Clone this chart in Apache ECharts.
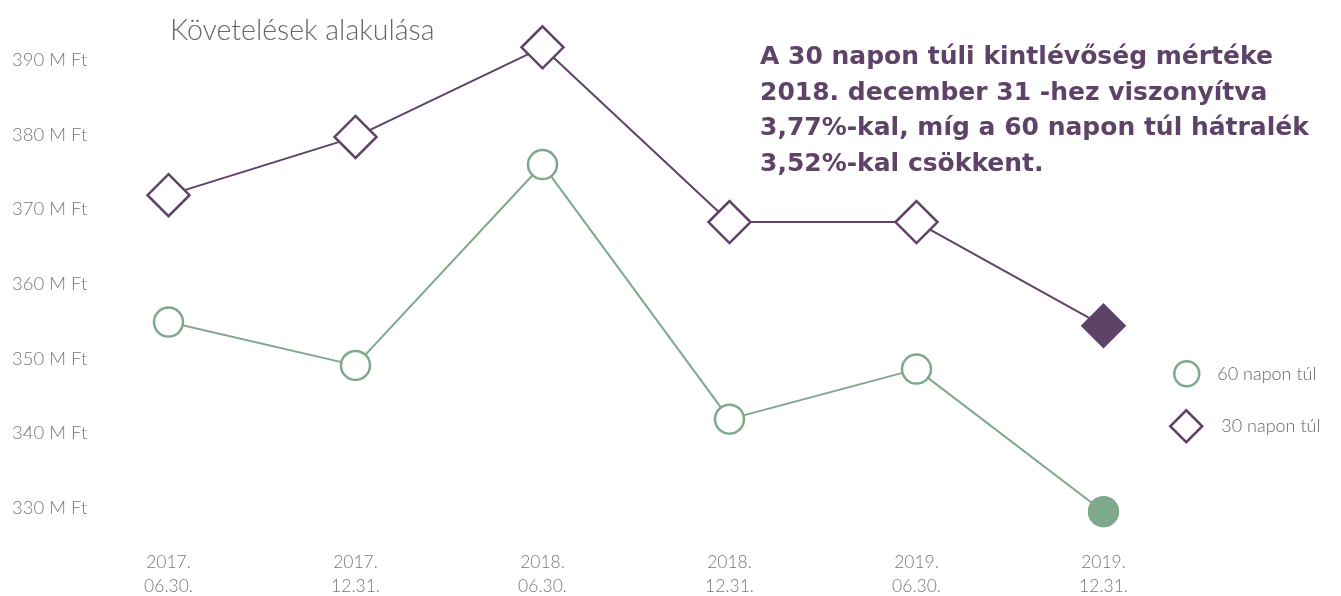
<!DOCTYPE html>
<html>
<head>
<meta charset="utf-8">
<script src="https://cdn.jsdelivr.net/npm/echarts@6/dist/echarts.min.js"></script>
<style>
html,body{margin:0;padding:0;background:#fff;overflow:hidden;}
#c{width:1341px;height:596px;}
</style>
</head>
<body>
<div id="c"></div>
<script>
const categories = ['2017.\n06.30.', '2017.\n12.31.', '2018.\n06.30.', '2018.\n12.31.', '2019.\n06.30.', '2019.\n12.31.'];
const days60 = [354.9, 349.1, 376.0, 341.9, 348.6, 329.5];
const days30 = [371.9, 379.7, 391.7, 368.3, 368.3, 354.4];
const seriesNames = ['60 napon túl', '30 napon túl'];
const chartTitle = 'Követelések alakulása';
const noteText = 'A 30 napon túli kintlévőség mértéke\n2018. december 31 -hez viszonyítva\n3,77%-kal, míg a 60 napon túl hátralék\n3,52%-kal csökkent.';

const GREEN = '#7ea98a';
const PURPLE = '#5e4268';
const FONT = 'Lato';

function markData(vals, color) {
  return vals.map((v, i) => i === vals.length - 1
    ? { value: v, itemStyle: { color: color, borderColor: color } }
    : v);
}

const chart = echarts.init(document.getElementById('c'), null, { renderer: 'canvas' });
chart.setOption({
  backgroundColor: '#ffffff',
  animation: false,
  title: [
    { text: chartTitle, left: 170, top: 16, padding: 0,
      textStyle: { fontFamily: FONT, fontWeight: 300, fontSize: 28.5, color: '#666' } },
    { text: noteText, left: 760, top: 40, padding: 0,
      textStyle: { fontFamily: 'DejaVu Sans', fontWeight: 'bold', fontSize: 25, lineHeight: 35.5, color: PURPLE } }
  ],
  legend: [
    { data: [{ name: seriesNames[0], icon: 'circle' }], orient: 'vertical', left: 1173, top: 360, padding: 0,
      itemWidth: 25, itemHeight: 25,
      itemStyle: { color: '#fff', borderColor: GREEN, borderWidth: 2.5 },
      textStyle: { fontFamily: FONT, fontWeight: 300, fontSize: 18, color: '#666', padding: [0, 0, 0, 13] } },
    { data: [{ name: seriesNames[1], icon: 'diamond' }], orient: 'vertical', left: 1169, top: 409, padding: 0,
      itemWidth: 32, itemHeight: 32,
      itemStyle: { color: '#fff', borderColor: PURPLE, borderWidth: 2.5 },
      textStyle: { fontFamily: FONT, fontWeight: 300, fontSize: 18, color: '#666', padding: [0, 0, 0, 14] } }
  ],
  grid: { left: 75, right: 144, top: 60, bottom: 88, containLabel: false, outerBoundsMode: 'none' },
  xAxis: {
    type: 'category', data: categories, boundaryGap: true,
    axisLine: { show: false }, axisTick: { show: false }, splitLine: { show: false },
    axisLabel: { fontFamily: FONT, fontWeight: 300, fontSize: 17.5, color: '#777', lineHeight: 24.5, margin: 42, interval: 0 }
  },
  yAxis: {
    type: 'value', min: 330, max: 390, interval: 10,
    axisLine: { show: false }, axisTick: { show: false }, splitLine: { show: false },
    axisLabel: { fontFamily: FONT, fontWeight: 300, fontSize: 18.5, color: '#777', align: 'left', margin: 63,
      formatter: v => v + ' M Ft' }
  },
  series: [
    { name: seriesNames[0], type: 'line', data: markData(days60, GREEN), clip: false,
      symbol: 'circle', symbolSize: 29, showAllSymbol: true,
      lineStyle: { color: GREEN, width: 2 },
      itemStyle: { color: '#fff', borderColor: GREEN, borderWidth: 2.5 } },
    { name: seriesNames[1], type: 'line', data: markData(days30, PURPLE), clip: false,
      symbol: 'diamond', symbolSize: 42, showAllSymbol: true,
      lineStyle: { color: PURPLE, width: 2 },
      itemStyle: { color: '#fff', borderColor: PURPLE, borderWidth: 2.5 } }
  ]
});
</script>
</body>
</html>
